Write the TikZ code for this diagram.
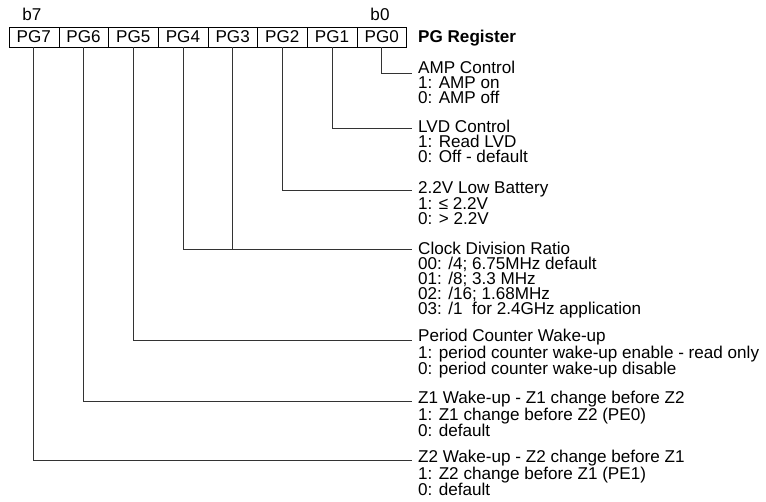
\documentclass[tikz,border=0pt]{standalone}
\usepackage{fontspec}
\setmainfont{Liberation Sans}
\usepackage{tikz}

\tikzset{
    reg/.style={draw, minimum width=49.7pt, minimum height=20pt, inner sep=0pt,
        font=\fontsize{17.1}{15}\selectfont},
    info/.style={anchor=base west, align=left, inner sep=0pt,
        font=\fontsize{17.1}{15}\selectfont},
    wire/.style={line width=0.9pt, black!80}
}

\begin{document}
\begin{tikzpicture}[x=1pt, y=-1pt]
        \useasboundingbox (0,0) rectangle (766,502);

        % register cells
        \node[reg] (pg7) at (33.85,37) {PG7};
        \node[reg] (pg6) at (83.55,37) {PG6};
        \node[reg] (pg5) at (133.25,37) {PG5};
        \node[reg] (pg4) at (182.95,37) {PG4};
        \node[reg] (pg3) at (232.65,37) {PG3};
        \node[reg] (pg2) at (282.35,37) {PG2};
        \node[reg] (pg1) at (332.05,37) {PG1};
        \node[reg] (pg0) at (381.75,37) {PG0};

        \node[info, anchor=base] (b7) at (32,21) {b7};
        \node[info, anchor=base] (b0) at (380,21) {b0};
        \node[info, font=\fontsize{17.1}{15}\selectfont\bfseries] (title) at (418,43) {PG Register};

        % bit descriptions (anchored at the baseline of the last line)
        \node[info] (amp) at (418,104) {AMP Control\\1: AMP on\\0: AMP off};
        \node[info] (lvd) at (418,163) {LVD Control\\1: Read LVD\\0: Off - default};
        \node[info] (bat) at (418,225) {2.2V Low Battery\\1: ≤ 2.2V\\0: > 2.2V};
        \node[info] (clk) at (418,315) {Clock Division Ratio\\00: /4; 6.75MHz default\\01: /8; 3.3 MHz\\02: /16; 1.68MHz\\03: /1\ \ for 2.4GHz application};
        \node[info] (pcw) at (418,375) {Period Counter Wake-up\\1: period counter wake-up enable - read only\\0: period counter wake-up disable};
        \node[info] (zw1) at (418,437) {Z1 Wake-up - Z1 change before Z2\\1: Z1 change before Z2 (PE0)\\0: default};
        \node[info] (zw2) at (418,496) {Z2 Wake-up - Z2 change before Z1\\1: Z2 change before Z1 (PE1)\\0: default};

        \coordinate (c0) at (412,73);
        \coordinate (c1) at (412,128);
        \coordinate (c2) at (412,190);
        \coordinate (c3) at (412,249);
        \coordinate (c5) at (412,340);
        \coordinate (c6) at (412,401);
        \coordinate (c7) at (412,460);

        \draw[wire] (pg0.south) |- (c0);
        \draw[wire] (pg1.south) |- (c1);
        \draw[wire] (pg2.south) |- (c2);
        \draw[wire] (pg3.south) |- (c3);
        \draw[wire] (pg4.south) |- (c3);
        \draw[wire] (pg5.south) |- (c5);
        \draw[wire] (pg6.south) |- (c6);
        \draw[wire] (pg7.south) |- (c7);
    \end{tikzpicture}
\end{document}
